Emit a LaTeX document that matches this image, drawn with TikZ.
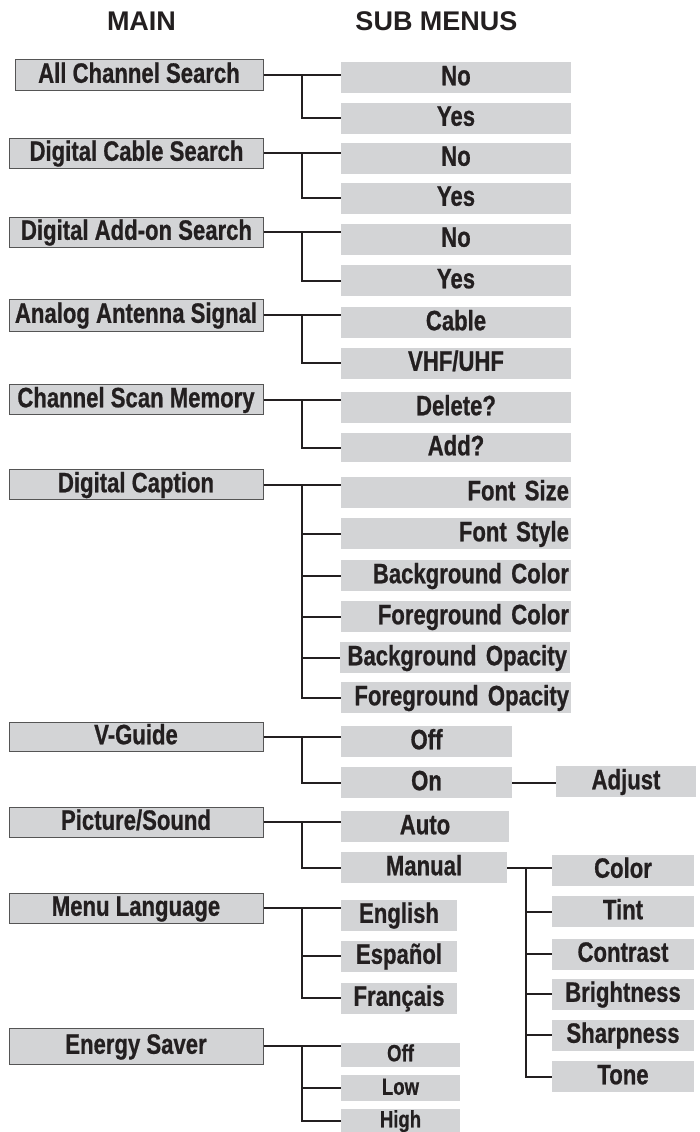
\documentclass[tikz,border=0pt]{standalone}
\usepackage{fontspec}
\setmainfont{Liberation Sans}
\newfontfamily\narrowfont{Liberation Sans}[FakeStretch=0.79, FakeBold=0.7]
\usepackage{xcolor}
\usepackage{tikz}
\usetikzlibrary{positioning}
\definecolor{boxgray}{RGB}{211,212,214}
\definecolor{rimgray}{RGB}{85,85,85}
\definecolor{inkblack}{RGB}{35,31,32}

\begin{document}
\begin{tikzpicture}[x=1pt, y=-1pt,
  mainbox/.style={draw=rimgray, line width=1pt, fill=boxgray, inner sep=0pt,
                  minimum width=254pt, minimum height=30pt,
                  text height=19.5pt, text depth=4pt, text=inkblack,
                  font=\narrowfont\bfseries\fontsize{28}{28}\selectfont},
  subbox/.style={fill=boxgray, inner sep=0pt,
                 minimum width=230pt, minimum height=31pt,
                 text height=19.5pt, text depth=4pt, text=inkblack,
                 font=\narrowfont\bfseries\fontsize{28}{28}\selectfont},
  rightbox/.style={subbox, inner xsep=2pt, text width=226pt, align=right},
  smallbox/.style={subbox, minimum width=119pt, minimum height=24pt,
                   text height=16.5pt, text depth=3pt,
                   font=\narrowfont\bfseries\fontsize{23.5}{23.5}\selectfont},
  head/.style={anchor=base, text=inkblack,
               font=\bfseries\fontsize{27}{27}\selectfont},
  link/.style={draw=inkblack, line width=2pt},
]
\useasboundingbox (0,0) rectangle (699,1132);

\node[head] (mainhead) at (141.5,31) {MAIN};
\node[head] (subhead) at (436.5,31) {SUB MENUS};

\coordinate (trunk) at (302,0);
\coordinate (trunkb) at (526,0);

\node[mainbox, minimum width=248pt] (allch) at (139,75) {All Channel Search};
\node[subbox] (allchno) at (456,77.5) {No};
\node[subbox] (allchyes) at (456,118) {Yes};

\node[mainbox] (digcab) at (136.5,153) {Digital Cable Search};
\node[subbox] (digcabno) at (456,158) {No};
\node[subbox] (digcabyes) at (456,198) {Yes};

\node[mainbox] (digadd) at (136.5,232) {Digital Add-on Search};
\node[subbox] (digaddno) at (456,239) {No};
\node[subbox] (digaddyes) at (456,280.5) {Yes};

\node[mainbox, minimum height=32pt] (antenna) at (136,315) {Analog Antenna Signal};
\node[subbox] (cable) at (456,322.5) {Cable};
\node[subbox] (vhfuhf) at (456,363) {VHF/UHF};

\node[mainbox] (chscan) at (136,399.5) {Channel Scan Memory};
\node[subbox] (delete) at (456,407.5) {Delete?};
\node[subbox, minimum height=29pt] (add) at (456,447.5) {Add?};

\node[mainbox] (digcap) at (136,484.5) {Digital Caption};
\node[rightbox] (fsize) at (456,492.5) {Font Size};
\node[rightbox] (fstyle) at (456,533.5) {Font Style};
\node[rightbox] (bgcolor) at (456,575.5) {Background Color};
\node[rightbox] (fgcolor) at (456,616.5) {Foreground Color};
\node[rightbox, text width=224pt] (bgopac) at (455,657.5) {Background Opacity};
\node[rightbox] (fgopac) at (456,697.5) {Foreground Opacity};

\node[mainbox, minimum height=29pt] (vguide) at (136,736.5) {V-Guide};
\node[subbox, minimum width=171pt] (vgoff) at (426.5,741.5) {Off};
\node[subbox, minimum width=171pt] (vgon) at (426.5,782.5) {On};
\node[subbox, minimum width=140pt] (adjust) at (626,781.5) {Adjust};

\node[mainbox] (picsnd) at (136,822) {Picture/Sound};
\node[subbox, minimum width=168pt] (auto) at (425,826.5) {Auto};
\node[subbox, minimum width=166pt] (manual) at (424,867.5) {Manual};
\node[subbox, minimum width=142pt] (color) at (623,870) {Color};
\node[subbox, minimum width=142pt] (tint) at (623,911.5) {Tint};
\node[subbox, minimum width=142pt] (contrast) at (623,954) {Contrast};
\node[subbox, minimum width=142pt] (bright) at (623,994) {Brightness};
\node[subbox, minimum width=142pt] (sharp) at (623,1035) {Sharpness};
\node[subbox, minimum width=142pt] (tone) at (623,1076.5) {Tone};

\node[mainbox] (menulang) at (136,908) {Menu Language};
\node[subbox, minimum width=116pt] (english) at (399,915) {English};
\node[subbox, minimum width=116pt] (espanol) at (399,956) {Español};
\node[subbox, minimum width=116pt] (francais) at (399,998) {Français};

\node[mainbox, minimum height=36pt] (energy) at (136,1046) {Energy Saver};
\node[smallbox] (esoff) at (400.5,1054.5) {Off};
\node[smallbox, minimum height=26pt] (eslow) at (400.5,1088) {Low};
\node[smallbox] (eshigh) at (400.5,1120.5) {High};

\draw[link] (allch.east) -- (allch.east -| allchno.west);
\draw[link] (allch.east -| trunk) |- (allchyes.west);
\draw[link] (digcab.east) -- (digcab.east -| digcabno.west);
\draw[link] (digcab.east -| trunk) |- (digcabyes.west);
\draw[link] (digadd.east) -- (digadd.east -| digaddno.west);
\draw[link] (digadd.east -| trunk) |- (digaddyes.west);
\draw[link] (antenna.east) -- (antenna.east -| cable.west);
\draw[link] (antenna.east -| trunk) |- (vhfuhf.west);
\draw[link] (chscan.east) -- (chscan.east -| delete.west);
\draw[link] (chscan.east -| trunk) |- (add.west);

\draw[link] (digcap.east) -- (digcap.east -| fsize.west);
\draw[link] (digcap.east -| trunk) |- (fgopac.west);
\draw[link] (trunk |- fstyle.west) -- (fstyle.west);
\draw[link] (trunk |- bgcolor.west) -- (bgcolor.west);
\draw[link] (trunk |- fgcolor.west) -- (fgcolor.west);
\draw[link] (trunk |- bgopac.west) -- (bgopac.west);

\draw[link] (vguide.east) -- (vguide.east -| vgoff.west);
\draw[link] (vguide.east -| trunk) |- (vgon.west);
\draw[link] (vgon.east) -- (vgon.east -| adjust.west);

\draw[link] (picsnd.east) -- (picsnd.east -| auto.west);
\draw[link] (picsnd.east -| trunk) |- (manual.west);
\draw[link] (manual.east) -- (manual.east -| color.west);
\draw[link] (manual.east -| trunkb) |- (tone.west);
\draw[link] (trunkb |- tint.west) -- (tint.west);
\draw[link] (trunkb |- contrast.west) -- (contrast.west);
\draw[link] (trunkb |- bright.west) -- (bright.west);
\draw[link] (trunkb |- sharp.west) -- (sharp.west);

\draw[link] (menulang.east) -- (menulang.east -| english.west);
\draw[link] (menulang.east -| trunk) |- (francais.west);
\draw[link] (trunk |- espanol.west) -- (espanol.west);

\draw[link] (energy.east) -- (energy.east -| esoff.west);
\draw[link] (energy.east -| trunk) |- (eshigh.west);
\draw[link] (trunk |- eslow.west) -- (eslow.west);
\end{tikzpicture}
\end{document}
